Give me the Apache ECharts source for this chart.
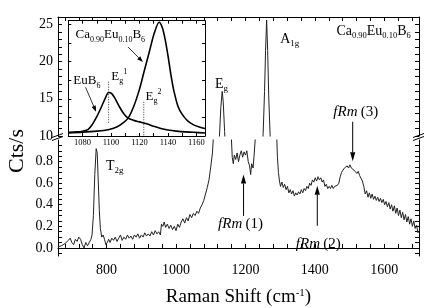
<!DOCTYPE html>
<html><head><meta charset="utf-8">
<script src="https://cdn.jsdelivr.net/npm/echarts@6/dist/echarts.min.js"></script>
<style>html,body{margin:0;padding:0;background:#fff}#c{width:436px;height:308px}</style>
</head><body><div id="c"></div>
<script>
const FONT = 'Liberation Serif';

// Main Raman spectrum of Ca0.90Eu0.10B6: [Raman shift (cm-1), counts/s]
const spectrum = [
[660,0.01],[665,0.00],[670,0.02],[675,0.01],[680,0.04],[685,0.03],[690,0.07],[695,0.09],[700,0.05],[705,0.03],
[710,0.08],[715,0.06],[720,0.10],[725,0.08],[730,0.03],[735,0.00],[740,0.05],[745,0.02],[750,0.01],[755,0.08],
[758,0.12],[762,0.30],[766,0.68],[770,0.92],[773,0.88],[776,0.62],[779,0.35],[782,0.18],[786,0.10],[790,0.12],
[794,0.08],[798,0.03],[802,0.05],[806,0.08],[810,0.05],[815,0.09],[820,0.07],[825,0.10],[830,0.06],[835,0.09],
[840,0.12],[845,0.07],[850,0.10],[855,0.08],[860,0.12],[865,0.09],[870,0.11],[875,0.08],[880,0.12],[885,0.10],
[890,0.13],[895,0.09],[900,0.12],[905,0.10],[910,0.14],[915,0.11],[920,0.13],[925,0.11],[930,0.15],[935,0.12],
[940,0.16],[945,0.13],[950,0.15],[955,0.12],[958,0.22],[962,0.20],[966,0.24],[970,0.19],[975,0.22],[980,0.18],
[985,0.21],[990,0.17],[995,0.20],[1000,0.16],[1005,0.22],[1010,0.19],[1015,0.24],[1020,0.27],[1025,0.23],[1030,0.28],
[1035,0.25],[1040,0.31],[1045,0.28],[1050,0.32],[1055,0.30],[1060,0.34],[1065,0.32],[1070,0.37],[1075,0.40],[1080,0.44],
[1085,0.50],[1090,0.56],[1095,0.63],[1100,0.75],[1105,0.88],[1108,1.05],[1112,1.8],[1116,3.0],[1120,5.0],[1125,9.8],
[1129,13.8],[1133,16.0],[1136,14.6],[1140,10.6],[1145,6.0],[1150,3.2],[1155,1.7],[1159,1.05],[1162,0.84],[1165,0.78],
[1168,0.86],[1172,0.82],[1176,0.88],[1180,0.80],[1184,0.86],[1188,0.90],[1192,0.84],[1196,0.89],[1200,0.86],[1204,0.90],
[1208,0.80],[1212,0.76],[1215,0.68],[1218,0.78],[1222,0.74],[1225,0.86],[1228,1.0],[1232,1.6],[1236,2.5],[1240,3.8],
[1244,5.8],[1248,8.2],[1251,10.3],[1255,16.0],[1258,21.5],[1261,25.6],[1264,21.5],[1267,15.5],[1271,10.2],[1275,6.5],
[1280,3.6],[1285,2.0],[1289,1.15],[1292,0.85],[1295,0.70],[1298,0.62],[1301,0.57],[1305,0.61],[1309,0.56],[1313,0.59],
[1317,0.54],[1321,0.57],[1325,0.51],[1329,0.54],[1333,0.50],[1337,0.53],[1341,0.48],[1345,0.51],[1349,0.49],[1353,0.52],
[1357,0.50],[1361,0.54],[1365,0.51],[1369,0.55],[1373,0.53],[1377,0.57],[1381,0.55],[1385,0.60],[1389,0.58],[1393,0.63],
[1397,0.61],[1401,0.65],[1405,0.62],[1409,0.66],[1413,0.63],[1417,0.65],[1421,0.61],[1425,0.63],[1429,0.57],[1433,0.59],
[1437,0.55],[1441,0.57],[1445,0.55],[1449,0.58],[1453,0.55],[1457,0.57],[1461,0.56],[1465,0.58],[1469,0.60],[1473,0.66],
[1477,0.70],[1481,0.72],[1485,0.74],[1489,0.73],[1493,0.76],[1497,0.74],[1501,0.77],[1505,0.74],[1509,0.75],[1513,0.72],
[1517,0.73],[1521,0.69],[1525,0.71],[1529,0.67],[1533,0.68],[1537,0.62],[1541,0.57],[1545,0.50],[1549,0.53],[1553,0.47],
[1557,0.51],[1561,0.46],[1565,0.50],[1569,0.45],[1573,0.48],[1577,0.44],[1581,0.47],[1585,0.43],[1589,0.46],[1593,0.42],
[1597,0.45],[1601,0.40],[1605,0.43],[1609,0.38],[1613,0.42],[1617,0.36],[1621,0.40],[1625,0.34],[1629,0.39],[1633,0.32],
[1637,0.37],[1641,0.30],[1645,0.35],[1649,0.28],[1653,0.33],[1657,0.26],[1661,0.31],[1665,0.24],[1669,0.29],[1673,0.22],
[1677,0.27],[1681,0.20],[1685,0.25],[1689,0.18],[1693,0.21],[1697,0.14],[1700,0.16]
];

// Inset: Eg region, Ca0.90Eu0.10B6 and EuB6
const insetCa = [
[1070,10.40],[1080,10.50],[1090,10.65],[1098,10.85],[1104,11.2],[1108,11.7],[1112,12.4],[1116,14.0],[1120,16.3],[1123,18.5],
[1127,21.4],[1130.5,23.9],[1133.8,25.3],[1136,24.6],[1138,23.0],[1140,20.8],[1142,18.3],[1144,16.2],[1147,14.0],[1150,12.9],
[1154,12.0],[1158,11.5],[1162,11.2],[1166,11.0]
];
const insetEu = [
[1070,10.50],[1076,10.55],[1080,10.65],[1084,10.9],[1087,11.6],[1090,12.6],[1093,13.8],[1096,15.1],[1098.3,15.85],[1100.5,15.7],
[1103,15.0],[1106,13.9],[1109,13.0],[1112,12.4],[1116,12.1],[1120,11.9],[1125,11.65],[1130,11.3],[1135,11.0],[1140,10.8],
[1146,10.65],[1152,10.55],[1158,10.5],[1166,10.4]
];

// Ticks and labels
const xTicks = [680,720,760,800,840,880,920,960,1000,1040,1080,1120,1160,1200,1240,1280,1320,1360,1400,1440,1480,1520,1560,1600,1640,1680];
const xLabels = [800,1000,1200,1400,1600];
const upperTicks = [10,11,12,13,14,15,16,17,18,19,20,21,22,23,24,25];
const upperLabels = [10,15,20,25];
const lowerTicks = [-0.05,0,0.05,0.1,0.15,0.2,0.25,0.3,0.35,0.4,0.45,0.5,0.55,0.6,0.65,0.7,0.75,0.8,0.85,0.9,0.95];
const lowerLabels = [0,0.2,0.4,0.6,0.8];
const insetXTicks = [1080,1090,1100,1110,1120,1130,1140,1150,1160];
const insetXLabels = [1080,1100,1120,1140,1160];
const insetYTicks = [12.5,15,17.5,20,22.5,25];

const BLACK = '#000';
const tick = (vals, len) => ({show: true, inside: true, length: len, customValues: vals, lineStyle: {color: BLACK, width: 1}});
const axLine = {show: true, lineStyle: {color: BLACK, width: 1}};
const noLabel = {show: false};
const plain = v => String(Math.round(v));

const chart = echarts.init(document.getElementById('c'), null, {renderer: 'canvas'});
chart.setOption({
  animation: false,
  backgroundColor: '#fff',
  grid: [
    {left: 58, right: 17, top: 17, height: 119},
    {left: 58, right: 17, top: 140, height: 118},
    {left: 68.3, right: 231, top: 20.7, height: 115.3, show: true, backgroundColor: '#fff', borderWidth: 0, z: 5}
  ],
  xAxis: [
    {gridIndex: 0, type: 'value', position: 'top', min: 660, max: 1700, axisLine: axLine, axisTick: tick(xTicks, 4), axisLabel: noLabel, splitLine: {show: false}},
    {gridIndex: 1, type: 'value', position: 'bottom', min: 660, max: 1700, axisLine: axLine, axisTick: tick(xTicks, 4),
      axisLabel: {show: true, customValues: xLabels, formatter: plain, color: BLACK, fontFamily: FONT, fontSize: 14, margin: 7},
      splitLine: {show: false},
      name: 'Raman Shift (cm{sp|-1})', nameLocation: 'middle', nameGap: 32,
      nameTextStyle: {color: BLACK, fontFamily: FONT, fontSize: 19,
        rich: {sp: {color: BLACK, fontFamily: FONT, fontSize: 11, lineHeight: 11, verticalAlign: 'top'}}}},
    {gridIndex: 2, type: 'value', position: 'bottom', min: 1070, max: 1166, axisLine: axLine, axisTick: tick(insetXTicks, 3),
      axisLabel: {show: true, customValues: insetXLabels, formatter: plain, color: BLACK, fontFamily: FONT, fontSize: 8.5, margin: 2},
      splitLine: {show: false}, z: 6},
    {gridIndex: 2, type: 'value', position: 'top', min: 1070, max: 1166, axisLine: axLine, axisTick: tick(insetXTicks, 3), axisLabel: noLabel, splitLine: {show: false}, z: 6}
  ],
  yAxis: [
    {gridIndex: 0, type: 'value', position: 'left', min: 10, max: 26, axisLine: axLine, axisTick: tick(upperTicks, 4),
      axisLabel: {show: true, customValues: upperLabels, formatter: plain, color: BLACK, fontFamily: FONT, fontSize: 14, margin: 5}, splitLine: {show: false}},
    {gridIndex: 0, type: 'value', position: 'right', min: 10, max: 26, axisLine: axLine, axisTick: tick(upperTicks, 4), axisLabel: noLabel, splitLine: {show: false}},
    {gridIndex: 1, type: 'value', position: 'left', min: -0.075, max: 1.0, axisLine: axLine, axisTick: tick(lowerTicks, 4),
      axisLabel: {show: true, customValues: lowerLabels, color: BLACK, fontFamily: FONT, fontSize: 14, margin: 5, formatter: v => Number(v).toFixed(1)}, splitLine: {show: false}},
    {gridIndex: 1, type: 'value', position: 'right', min: -0.075, max: 1.0, axisLine: axLine, axisTick: tick(lowerTicks, 4), axisLabel: noLabel, splitLine: {show: false}},
    {gridIndex: 2, type: 'value', position: 'left', min: 10, max: 25.5, axisLine: axLine, axisTick: tick(insetYTicks, 3), axisLabel: noLabel, splitLine: {show: false}, z: 6},
    {gridIndex: 2, type: 'value', position: 'right', min: 10, max: 25.5, axisLine: axLine, axisTick: tick(insetYTicks, 3), axisLabel: noLabel, splitLine: {show: false}, z: 6}
  ],
  series: [
    {type: 'line', xAxisIndex: 0, yAxisIndex: 0, data: spectrum, showSymbol: false, clip: true, lineStyle: {color: '#222', width: 1}},
    {type: 'line', xAxisIndex: 1, yAxisIndex: 2, data: spectrum, showSymbol: false, clip: true, lineStyle: {color: '#222', width: 1}},
    {type: 'line', xAxisIndex: 2, yAxisIndex: 4, data: insetCa, showSymbol: false, clip: true, smooth: 0.3, lineStyle: {color: BLACK, width: 1.6}, z: 7},
    {type: 'line', xAxisIndex: 2, yAxisIndex: 4, data: insetEu, showSymbol: false, clip: true, smooth: 0.3, lineStyle: {color: BLACK, width: 1.6}, z: 7}
  ]
});

const P = (si, x, y) => chart.convertToPixel({seriesIndex: si}, [x, y]);
const mkRich = (big, small) => ({
  n: {fontFamily: FONT, fontSize: big, lineHeight: big + 4, fill: BLACK},
  i: {fontFamily: FONT, fontSize: big, lineHeight: big + 4, fontStyle: 'italic', fill: BLACK},
  b: {fontFamily: FONT, fontSize: small, lineHeight: small, verticalAlign: 'bottom', fill: BLACK},
  p: {fontFamily: FONT, fontSize: small, lineHeight: small, verticalAlign: 'top', fill: BLACK}
});
const R14 = mkRich(14, 9), R15 = mkRich(15, 9), R13 = mkRich(13, 8), RCa = mkRich(14, 8.5);
const txt = (pt, text, rich, align) => ({type: 'text', x: pt[0], y: pt[1], z: 100,
  style: {text: text, rich: rich, align: align || 'left', verticalAlign: 'middle', fill: BLACK}});
function arrow(a, b, hl, hw, w) {
  const dx = b[0] - a[0], dy = b[1] - a[1], L = Math.hypot(dx, dy), ux = dx / L, uy = dy / L;
  const bx = b[0] - ux * hl, by = b[1] - uy * hl;
  return [
    {type: 'line', z: 100, shape: {x1: a[0], y1: a[1], x2: bx, y2: by}, style: {stroke: BLACK, lineWidth: w}},
    {type: 'polygon', z: 100, shape: {points: [[b[0], b[1]], [bx - uy * hw, by + ux * hw], [bx + uy * hw, by - ux * hw]]}, style: {fill: BLACK}}
  ];
}
function dotted(a, b) {
  return {type: 'line', z: 100, shape: {x1: a[0], y1: a[1], x2: b[0], y2: b[1]}, style: {stroke: BLACK, lineWidth: 0.8, lineDash: [1, 1.5]}};
}
function breakMark(xc, yc) {
  return [
    {type: 'line', z: 100, shape: {x1: xc - 6, y1: yc - 0.5, x2: xc + 5, y2: yc - 4.5}, style: {stroke: BLACK, lineWidth: 1}},
    {type: 'line', z: 100, shape: {x1: xc - 6, y1: yc + 2.5, x2: xc + 5, y2: yc - 1.5}, style: {stroke: BLACK, lineWidth: 1}}
  ];
}

const g = [];
// main peak labels
g.push(txt(P(1, 798, 0.754), '{n|T}{b|2g}', R14));
g.push(txt(P(0, 1112, 17.0), '{n|E}{b|g}', R14));
g.push(txt(P(0, 1300, 23.0), '{n|A}{b|1g}', R14));
g.push(txt(P(0, 1462, 24.1), '{n|Ca}{b|0.90}{n|Eu}{b|0.10}{n|B}{b|6}', RCa));
// fRm annotations
g.push(txt(P(1, 1186, 0.217), '{i|fRm} {n|(1)}', R15, 'center'));
g.push(...arrow(P(1, 1194.5, 0.296), P(1, 1194.5, 0.681), 9, 2.6, 1));
g.push(txt(P(1, 1410, 0.035), '{i|fRm} {n|(2)}', R15, 'center'));
g.push(...arrow(P(1, 1407, 0.205), P(1, 1407, 0.575), 9, 2.6, 1));
g.push(txt(P(0, 1518, 13.2), '{i|fRm} {n|(3)}', R15, 'center'));
g.push(...arrow(P(0, 1509, 11.92), P(1, 1509, 0.802), 9, 2.6, 1));
// inset annotations
g.push(txt(P(2, 1075.1, 23.58), '{n|Ca}{b|0.90}{n|Eu}{b|0.10}{n|B}{b|6}', R13));
g.push(...arrow(P(2, 1112, 21.96), P(2, 1122.4, 19.95), 6, 2.2, 0.8));
g.push(txt(P(2, 1073.5, 17.39), '{n|EuB}{b|6}', R13));
g.push(...arrow(P(2, 1082.1, 16.55), P(2, 1089.5, 13.27), 6, 2.2, 0.8));
g.push(txt(P(2, 1100.2, 17.97), '{n|E}{b|g}{p|1}', R13));
g.push(dotted(P(2, 1098.3, 17.3), P(2, 1098.3, 11.7)));
g.push(txt(P(2, 1124.3, 15.28), '{n|E}{b|g}{p|2}', R13));
g.push(dotted(P(2, 1123, 14.6), P(2, 1123, 10.05)));
// axis title and axis-break marks
g.push({type: 'text', x: 17, y: 151, rotation: Math.PI / 2, z: 100,
  style: {text: 'Cts/s', fontFamily: FONT, fontSize: 22, fill: BLACK, align: 'center', verticalAlign: 'middle'}});
const leftBreak = P(0, 660, 10), rightBreak = P(0, 1700, 10);
g.push(...breakMark(leftBreak[0], leftBreak[1] + 2));
g.push(...breakMark(rightBreak[0], rightBreak[1] + 2));

chart.setOption({graphic: g});
</script></body></html>
